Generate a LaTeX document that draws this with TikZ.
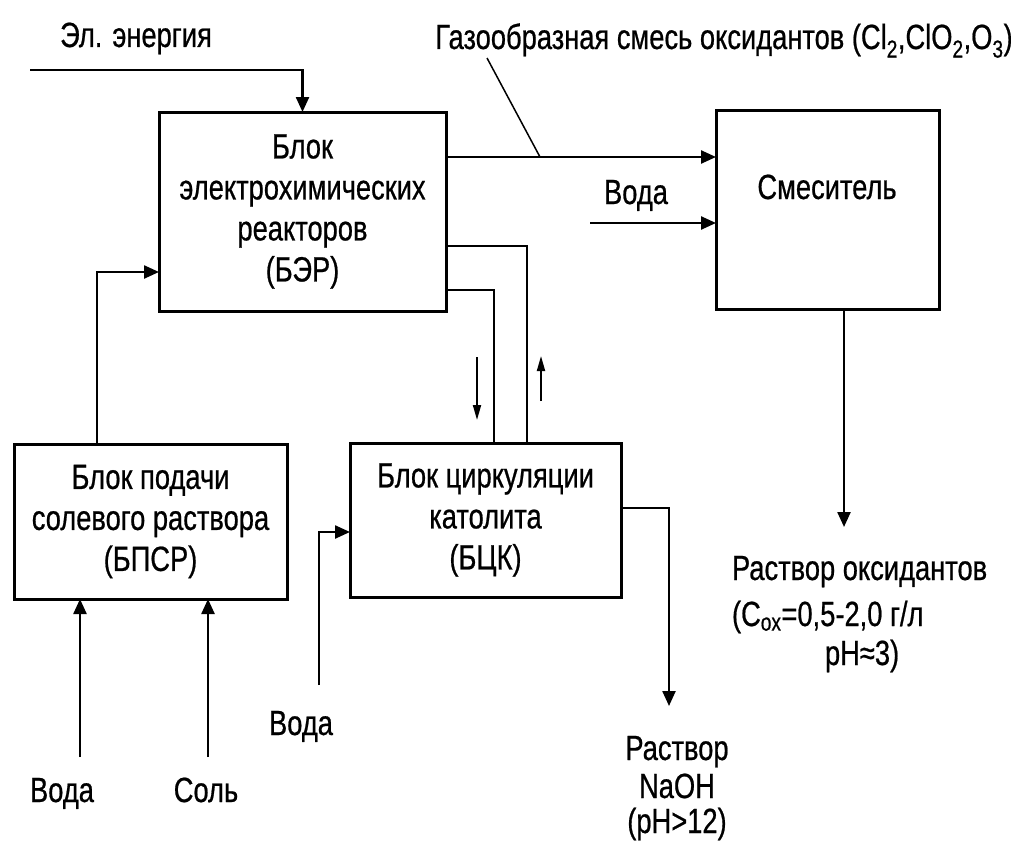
\documentclass[tikz,border=0pt]{standalone}
\usepackage{fontspec}
\setmainfont{Liberation Sans}[FakeStretch=0.78,FakeBold=0.6]
\usetikzlibrary{arrows.meta}
\begin{document}
\begin{tikzpicture}[x=1pt,y=-1pt,
  every node/.style={font=\fontsize{35}{41}\selectfont, inner sep=0pt, outer sep=0pt},
  lbl/.style={anchor=base},
  box/.style={draw, line width=3pt, align=center},
  conn/.style={line width=2.4pt},
  arr/.style={conn, -{Triangle[length=15pt,width=13pt]}},
  sarr/.style={line width=1.8pt, -{Triangle[length=15pt,width=8pt]}}]
\useasboundingbox (0,0) rectangle (1011,843);

% boxes
\node[box, minimum width=287pt, minimum height=199pt] (ber) at (302.5,211.5)
  {Блок\\электрохимических\\реакторов\\(БЭР)};
\node[box, minimum width=223pt, minimum height=199pt] (mix) at (827.5,209.5) {};
\node[lbl] (mixlabel) at (827,199) {Смеситель};
\node[box, minimum width=273pt, minimum height=155pt] (bpsr) at (150.5,521.5)
  {Блок подачи\\солевого раствора\\(БПСР)};
\node[box, minimum width=271pt, minimum height=154pt] (bck) at (485.5,520)
  {Блок циркуляции\\католита\\(БЦК)};

% labels
\node[lbl] (energy) at (136,47) {Эл. энергия};
\node[lbl] (gas) at (724,49) {Газообразная смесь оксидантов (Cl\textsubscript{2},ClO\textsubscript{2},O\textsubscript{3})};
\node[lbl] (watermix) at (636,204) {Вода};
\node[anchor=base west] (sol1) at (732,580) {Раствор оксидантов};
\node[anchor=base west] (sol2) at (732,626) {(C\textsubscript{ox}=0,5-2,0 г/л};
\node[anchor=base west] (sol3) at (825,665) {pH≈3)};
\node[lbl] (naoh1) at (677,760) {Раствор};
\node[lbl] (naoh2) at (677,798) {NaOH};
\node[lbl] (naoh3) at (677,833) {(pH>12)};
\node[lbl] (water1) at (62,802) {Вода};
\node[lbl] (salt) at (206,802) {Соль};
\node[lbl] (water2) at (301,735) {Вода};

% coordinates
\coordinate (e0) at (30,70);
\coordinate (ygas) at (0,157);
\coordinate (ywat) at (0,223);
\coordinate (w0) at (590,223);
\coordinate (lead0) at (487,58);
\coordinate (lead1) at (540,157);
\coordinate (ydown) at (0,290);
\coordinate (xdown) at (494,0);
\coordinate (yup) at (0,246);
\coordinate (xup) at (527,0);
\coordinate (yin) at (0,272);
\coordinate (xin) at (97,0);
\coordinate (v1) at (80,757);
\coordinate (s1) at (208,757);
\coordinate (v2) at (319,685);
\coordinate (yv2) at (0,532);
\coordinate (ynaoh) at (0,508);
\coordinate (naohtip) at (669,706);
\coordinate (soltip) at (844,527);
\coordinate (da0) at (477,357);
\coordinate (da1) at (477,420);
\coordinate (ua0) at (541,401);
\coordinate (ua1) at (541,356);

% connectors
\draw[arr] (e0) -| (ber.north);
\draw[arr] (ber.east |- ygas) -- (mix.west |- ygas);
\draw[arr] (w0) -- (mix.west |- ywat);
\draw[line width=1.5pt] (lead0) -- (lead1);
\draw[conn] (ber.east |- ydown) -| (xdown |- bck.north);
\draw[conn] (xup |- bck.north) |- (ber.east |- yup);
\draw[sarr] (da0) -- (da1);
\draw[sarr] (ua0) -- (ua1);
\draw[arr] (xin |- bpsr.north) |- (ber.west |- yin);
\draw[arr] (v1) -- (v1 |- bpsr.south);
\draw[arr] (s1) -- (s1 |- bpsr.south);
\draw[arr] (v2) |- (bck.west |- yv2);
\draw[arr] (bck.east |- ynaoh) -| (naohtip);
\draw[arr] (mix.south -| soltip) -- (soltip);
\end{tikzpicture}
\end{document}
